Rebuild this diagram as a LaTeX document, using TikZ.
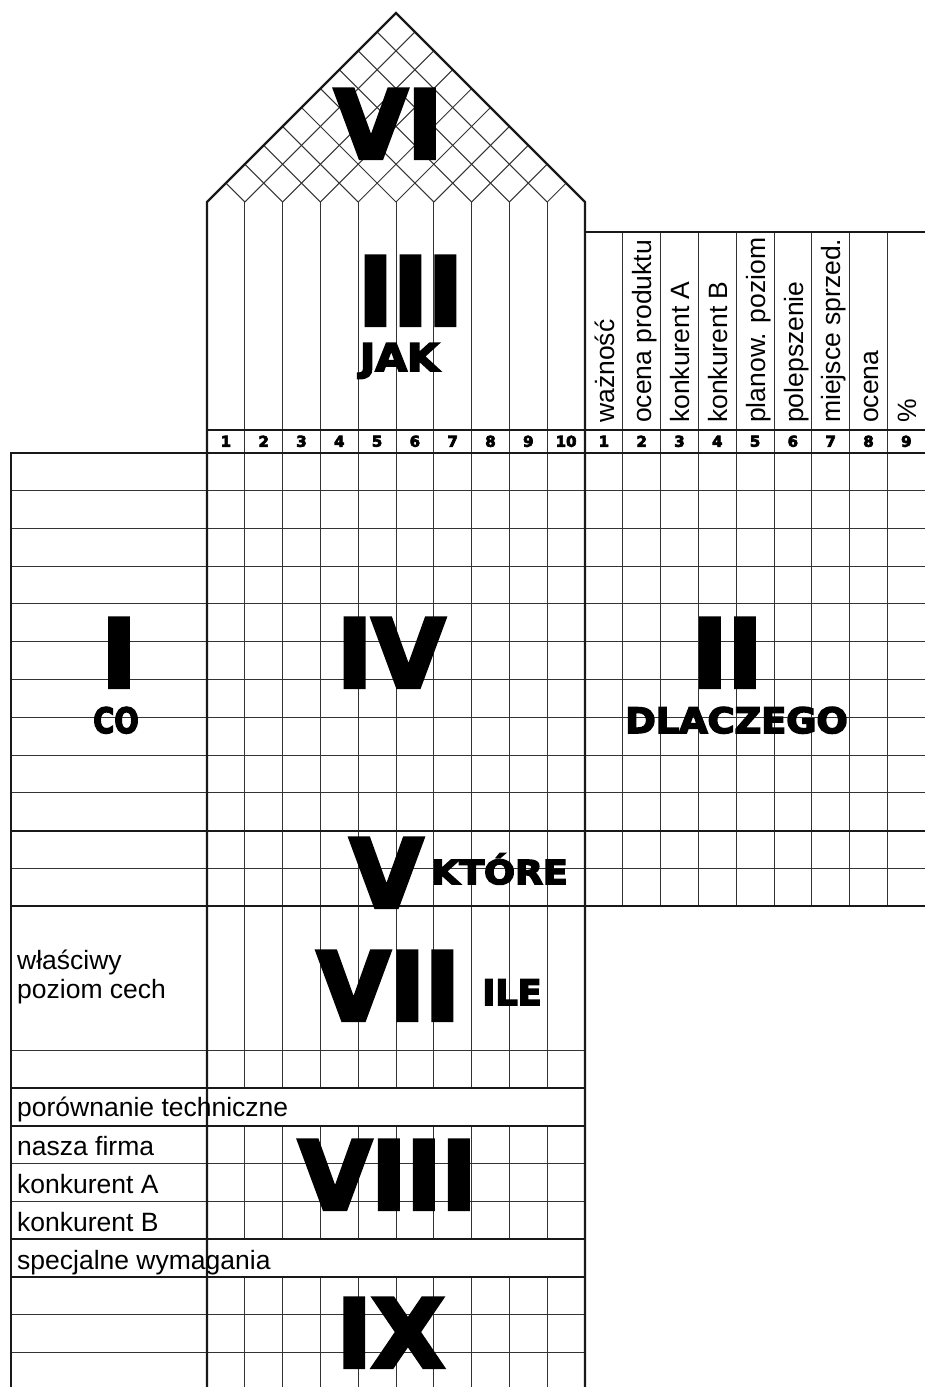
\documentclass[tikz,border=0pt]{standalone}
\usepackage{fontspec}
\setmainfont{Liberation Sans}
\newfontfamily\heavyfont{DejaVu Sans Bold}[FakeBold=4.5]

\def\colw{37.8}

\tikzset{
  gridline/.style={line width=1pt, black!80},
  frameline/.style={line width=2.2pt, black!90},
  roman/.style={anchor=base, inner sep=0pt, font=\heavyfont\fontsize{94}{94}\selectfont},
  caption/.style={anchor=base, inner sep=0pt, font=\heavyfont\fontsize{35}{35}\selectfont},
  colhead/.style={rotate=90, anchor=base west, inner sep=0pt, font=\fontsize{26.5}{26.5}\selectfont},
  colnum/.style={inner sep=0pt, font=\heavyfont\fontsize{15}{15}\selectfont},
  rowlabel/.style={anchor=base west, inner sep=0pt, font=\fontsize{26.5}{26.5}\selectfont},
}

\begin{document}
\begin{tikzpicture}[x=1pt, y=-1pt]
  \useasboundingbox (0,0) rectangle (924,1387);

  % Roof lattice (VI)
  \foreach \i in {1,...,10}
    \draw[gridline] ({207+\i*\colw},202) -- ({207+\i*\colw/2},{202-\i*\colw/2});
  \foreach \i in {0,...,9}
    \draw[gridline] ({207+\i*\colw},202) -- ({396+\i*\colw/2},{202-(10-\i)*\colw/2});

  % Column lines
  \foreach \i in {1,...,9} {
    \draw[gridline] ({207+\i*\colw},202) -- ({207+\i*\colw},1088);
    \draw[gridline] ({207+\i*\colw},1125.8) -- ({207+\i*\colw},1239.2);
    \draw[gridline] ({207+\i*\colw},1277) -- ({207+\i*\colw},1390);
  }
  \foreach \j in {1,...,8}
    \draw[gridline] ({585+\j*\colw},232) -- ({585+\j*\colw},906.3);

  % Row lines
  \foreach \k in {1,...,9,11}
    \draw[gridline] (11,{452.7+\k*\colw}) -- (926,{452.7+\k*\colw});
  \foreach \y in {1050,1163.6,1201.4,1314.8,1352.6}
    \draw[gridline] (11,\y) -- (585,\y);

  % Frame
  \draw[frameline] (207,1390) -- (207,202) -- (396,13) -- (585,202) -- (585,1390);
  \draw[frameline] (585,232) -- (926,232);
  \draw[frameline] (207,430) -- (926,430);
  \draw[frameline] (11,1390) -- (11,452.7) -- (926,452.7);
  \draw[frameline] (11,830.7) -- (926,830.7);
  \draw[frameline] (11,906.3) -- (926,906.3);
  \foreach \y in {1088,1125.8,1239.2,1277}
    \draw[frameline] (11,\y) -- (585,\y);

  % Column numbers
  \foreach \i in {1,...,10}
    \node[colnum] (nm\i) at ({207+(\i-0.5)*\colw},441.3) {\i};
  \foreach \j in {1,...,9}
    \node[colnum] (nr\j) at ({585+(\j-0.5)*\colw},441.3) {\j};

  % Column headers
  \foreach \t [count=\j] in {ważność, ocena produktu, konkurent A, konkurent B, planow. poziom, polepszenie, miejsce sprzed., ocena, \%}
    \node[colhead] (hd\j) at ({585+(\j-1)*\colw+29},423) {\t};

  % Row labels
  \node[rowlabel, anchor=west, align=left, font=\fontsize{26.5}{29}\selectfont] (cech) at (17,977) {właściwy\\poziom cech};
  \node[rowlabel] (tech) at (17,1116) {porównanie techniczne};
  \node[rowlabel] (firma) at (17,1155.6) {nasza firma};
  \node[rowlabel] (konA) at (17,1193.4) {konkurent A};
  \node[rowlabel] (konB) at (17,1231.2) {konkurent B};
  \node[rowlabel] (spec) at (17,1269) {specjalne wymagania};

  % Section numerals and names
  \node[roman] (vi) at (388.5,158) {VI};
  \node[roman] (iii) at (410.5,325) {III};
  \node[caption, xscale=1.08, font=\heavyfont\fontsize{38}{38}\selectfont] (jak) at (399.5,371) {JAK};
  \node[roman] (i) at (119,687) {I};
  \node[caption, xscale=0.82] (co) at (116,733) {CO};
  \node[roman] (iv) at (391,687) {IV};
  \node[roman] (ii) at (727.5,687) {II};
  \node[caption, xscale=1.05] (dlaczego) at (736.5,733) {DLACZEGO};
  \node[roman] (v) at (386.5,907) {V};
  \node[caption, xscale=1.1, font=\heavyfont\fontsize{33}{33}\selectfont] (ktore) at (499.5,884) {KTÓRE};
  \node[roman] (vii) at (388.5,1020) {VII};
  \node[caption] (ile) at (512,1005) {ILE};
  \node[roman] (viii) at (387.5,1209) {VIII};
  \node[roman] (ix) at (390.5,1367) {IX};
\end{tikzpicture}
\end{document}
